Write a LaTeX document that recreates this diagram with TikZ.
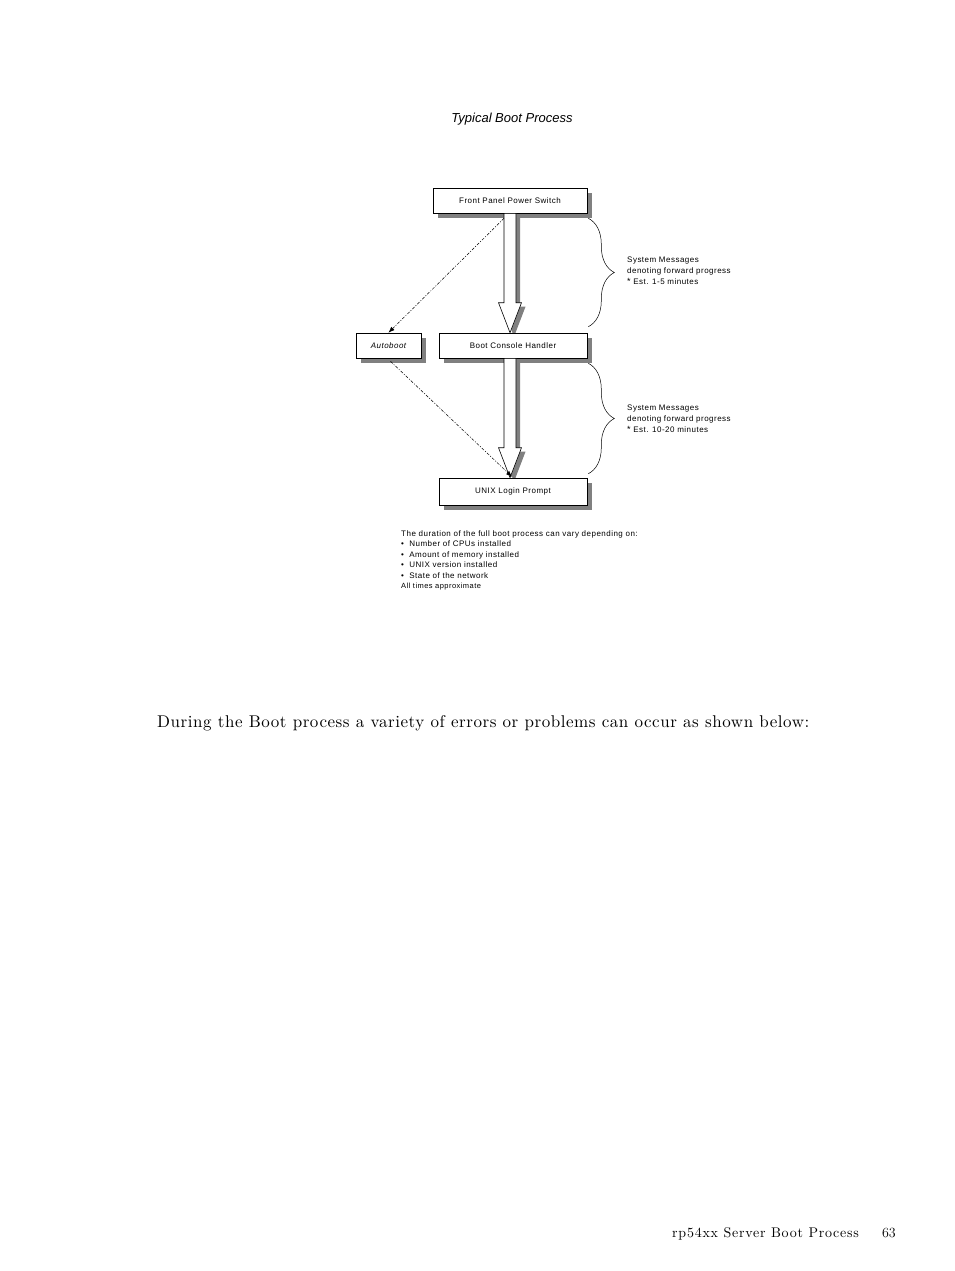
\documentclass[tikz,border=0pt]{standalone}
\usepackage{fontspec}
\setsansfont{Liberation Sans}
\newfontfamily\diagfont[LetterSpace=6]{Liberation Sans}
\newfontfamily\bodyfont{lmroman10-regular.otf}[LetterSpace=3.2]
\newfontfamily\footfont{lmroman10-regular.otf}[LetterSpace=5.5]
\usetikzlibrary{calc,shadows,decorations.pathreplacing,arrows.meta}
\definecolor{shadowgray}{gray}{0.5}
\newcommand\hollowarrow[2]{%
 \begin{scope}
  \clip let \p1=(#1), \p2=(#2) in (\x1-20pt,\y1) rectangle (\x1+30pt,\y2);
  \fill[shadowgray] let \p1=(#1), \p2=(#2) in
   (\x1-2pt,\y1-4pt) -- (\x1+10pt,\y1-4pt) -- (\x1+10pt,\y2+26pt) -- (\x1+15.5pt,\y2+26pt) -- (\x1+4pt,\y2-4pt) -- (\x1-7.5pt,\y2+26pt) -- (\x1-2pt,\y2+26pt) -- cycle;
 \end{scope}
 \draw[fill=white, line width=0.6pt] let \p1=(#1), \p2=(#2) in
   (\x1-6pt,\y1) -- (\x1+6pt,\y1) -- (\x1+6pt,\y2+30pt) -- (\x1+11.5pt,\y2+30pt) -- (\x1,\y2) -- (\x1-11.5pt,\y2+30pt) -- (\x1-6pt,\y2+30pt) -- cycle;
}
\begin{document}
\begin{tikzpicture}[x=1pt,y=-1pt,
 box/.style={draw=black, line width=0.6pt, fill=white, inner sep=0pt, minimum height=25pt,
   font=\diagfont\fontsize{8}{9}\selectfont,
   drop shadow={shadow xshift=5pt, shadow yshift=-5pt, fill=shadowgray, opacity=1}},
 dashln/.style={line width=0.5pt, dash pattern=on 3pt off 1.5pt on 1pt off 1.5pt, -{Latex[length=6pt,width=4.5pt]}},
 bracestyle/.style={line width=0.5pt, decorate, decoration={brace, amplitude=26pt}},
 note/.style={font=\diagfont\fontsize{8}{11}\selectfont, align=left, inner sep=0pt}]
\useasboundingbox (0,0) rectangle (954,1271);
\fill[white] (0,0) rectangle (954,1271);

\node[font=\sffamily\itshape\fontsize{13}{15}\selectfont] (title) at (512,119) {Typical Boot Process};

\node[box, minimum width=154pt] (fp) at (510,200.5) {Front Panel Power Switch};
\node[box, minimum width=65pt, font=\diagfont\itshape\fontsize{8}{9}\selectfont] (ab) at (388.5,345.5) {Autoboot};
\node[box, minimum width=148pt] (bch) at (513,345.5) {Boot Console Handler};
\node[box, minimum width=148pt, minimum height=27pt] (ux) at (513,491.5) {UNIX Login Prompt};

\hollowarrow{fp.south}{fp.south |- bch.north}
\hollowarrow{fp.south |- bch.south}{fp.south |- ux.north}

\draw[dashln] ($(fp.south)+(-6,5)$) -- (ab.north);
\draw[dashln] ($(ab.south)+(2,3)$) -- ($(ux.north)+(-1,-1)$);

\draw[bracestyle] ($(fp.south east)+(1,5)$) -- ($(bch.north east)+(1,-6)$);
\draw[bracestyle] ($(bch.south east)+(1,5)$) -- ($(ux.north east)+(1,-4)$);

\node[note, anchor=west] (m1) at (627,271) {System Messages\\denoting forward progress\\{\fontsize{9}{9}\selectfont *} Est. 1-5 minutes};
\node[note, anchor=west] (m2) at (627,419) {System Messages\\denoting forward progress\\{\fontsize{9}{9}\selectfont *} Est. 10-20 minutes};

\node[note, anchor=north west, font=\diagfont\fontsize{8}{10.4}\selectfont] (dur) at (401,530.5) {The duration of the full boot process can vary depending on:\\
\textbullet\ \ Number of CPUs installed\\
\textbullet\ \ Amount of memory installed\\
\textbullet\ \ UNIX version installed\\
\textbullet\ \ State of the network\\
{\fontsize{7.5}{10.4}\selectfont All times approximate}};

\node[anchor=base west, inner sep=0pt, font=\bodyfont\fontsize{17}{20}\selectfont] (body) at (157,727) {During the Boot process a variety of errors or problems can occur as shown below:};
\node[anchor=base west, inner sep=0pt, font=\footfont\fontsize{14}{16}\selectfont] (foot) at (672,1237) {rp54xx Server Boot Process};
\node[anchor=base east, inner sep=0pt, font=\fontsize{14}{16}\selectfont] (pg) at (896,1237) {63};
\end{tikzpicture}
\end{document}
